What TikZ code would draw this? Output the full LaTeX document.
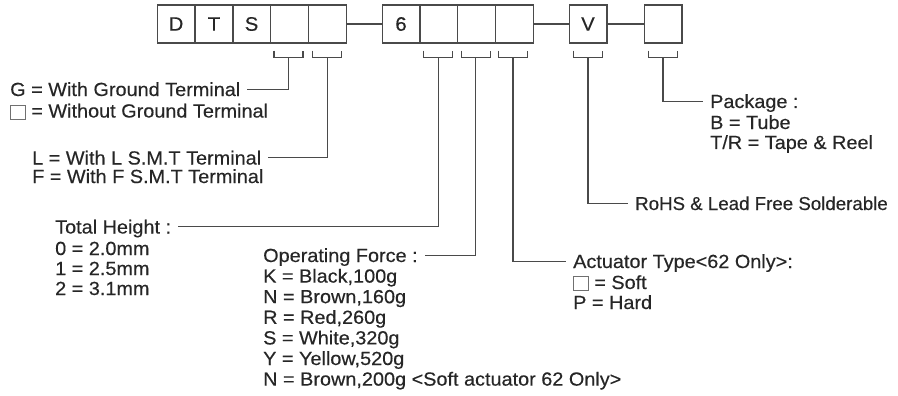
\documentclass[tikz,border=0pt]{standalone}
\usepackage{fontspec}
\setmainfont{Liberation Sans}[FakeBold=0.35,FakeStretch=1.045]
\newfontfamily\plainwidth{Liberation Sans}[FakeBold=0.35]
\usetikzlibrary{calc}
\definecolor{txtc}{HTML}{262626}
\definecolor{linec}{HTML}{4A4A4A}
\definecolor{sqc}{HTML}{707070}
\newcommand\emptysq{{\color{sqc}\setlength\fboxsep{0pt}\setlength\fboxrule{0.8pt}\raisebox{-1pt}{\fbox{\rule{0pt}{13pt}\hspace{14pt}}}}}
\newcommand\brk[1]{\draw[conn] ($(#1)+(-14.5,-7)$) |- ($(#1)+(14.5,0)$) -- ++(0,-7);}
\begin{document}
\begin{tikzpicture}[x=1pt,y=-1pt,
  cell/.style={draw=linec,line width=1.2pt,minimum width=37.8pt,minimum height=38pt,inner sep=0pt,text=txtc,font=\fontsize{19.5}{20}\selectfont},
  conn/.style={draw=linec,line width=1.2pt},
  lead/.style={conn,shorten >=7pt},
  txt/.style={anchor=base west,inner sep=0pt,text height=13.6pt,text depth=0pt,text=txtc,font=\fontsize{19}{20}\selectfont}]
\useasboundingbox (0,0) rectangle (898,396);
% code boxes
\node[cell] (c1) at (176,24) {D};
\node[cell] (c2) at (214,24) {T};
\node[cell] (c3) at (251.6,24) {S};
\node[cell] (c4) at (289.4,24) {};
\node[cell] (c5) at (327.2,24) {};
\node[cell] (c6) at (401,24) {6};
\node[cell] (c7) at (438.8,24) {};
\node[cell] (c8) at (476.6,24) {};
\node[cell] (c9) at (514.4,24) {};
\node[cell] (cv) at (588,24) {V};
\node[cell] (cp) at (663,24) {};
\draw[conn] (c5.east) -- (c6.west);
\draw[conn] (c9.east) -- (cv.west);
\draw[conn] (cv.east) -- (cp.west);
% bracket coordinates
\coordinate (k4) at ($(c4.south)+(-1,14)$);
\coordinate (k5) at ($(c5.south)+(0,14)$);
\coordinate (k7) at ($(c7.south)+(-0.5,14)$);
\coordinate (k8) at ($(c8.south)+(-1,14)$);
\coordinate (k9) at ($(c9.south)+(-1.5,14)$);
\coordinate (kv) at ($(cv.south)+(0,14)$);
\coordinate (kp) at ($(cp.south)+(0,14)$);
\brk{k4}\brk{k5}\brk{k7}\brk{k8}\brk{k9}\brk{kv}\brk{kp}
% texts
\node[txt] (g1) at (10,96) {G = With Ground Terminal};
\node[txt] (g2) at (10,117.5) {\emptysq{} = Without Ground Terminal};
\node[txt] (l1) at (32,164.5) {L = With L S.M.T Terminal};
\node[txt] (l2) at (32,183) {F = With F S.M.T Terminal};
\node[txt] (h1) at (55,233.5) {Total Height :};
\node[txt] (h2) at (55,255) {0 = 2.0mm};
\node[txt] (h3) at (55,275) {1 = 2.5mm};
\node[txt] (h4) at (55,295) {2 = 3.1mm};
\node[txt] (f1) at (263,262) {Operating Force :};
\node[txt] (f2) at (263,282.6) {K = Black,100g};
\node[txt] (f3) at (263,303.2) {N = Brown,160g};
\node[txt] (f4) at (263,323.8) {R = Red,260g};
\node[txt] (f5) at (263,344.4) {S = White,320g};
\node[txt] (f6) at (263,365) {Y = Yellow,520g};
\node[txt] (f7) at (263,385.6) {N = Brown,200g <Soft actuator 62 Only>};
\node[txt] (a1) at (573,268) {Actuator Type<62 Only>:};
\node[txt] (a2) at (573,289) {\emptysq{} = Soft};
\node[txt] (a3) at (573,309) {P = Hard};
\node[txt,font=\plainwidth\fontsize{18.7}{20}\selectfont] (r1) at (635,210) {RoHS \& Lead Free Solderable};
\node[txt] (p1) at (710,108) {Package :};
\node[txt] (p2) at (710,129) {B = Tube};
\node[txt] (p3) at (710,149) {T/R = Tape \& Reel};
% leaders
\draw[lead] (k4) |- (g1.east);
\draw[lead] (k5) |- (l1.east);
\draw[lead] (k7) |- (h1.east);
\draw[lead] (k8) |- (f1.east);
\draw[lead] (k9) |- (a1.west);
\draw[lead] (kv) |- (r1.west);
\draw[lead] (kp) |- (p1.west);
\end{tikzpicture}
\end{document}
